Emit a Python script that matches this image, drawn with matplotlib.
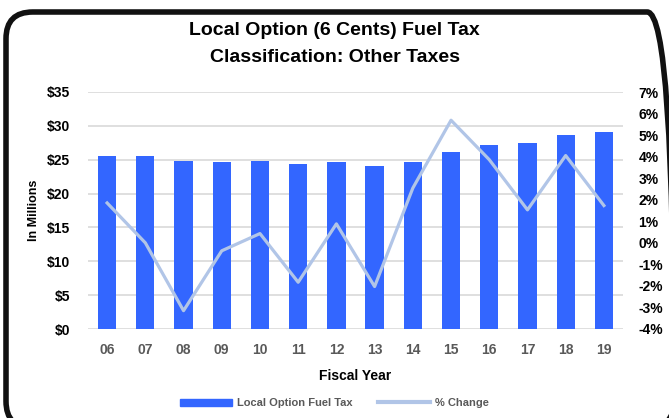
import matplotlib
matplotlib.use("Agg")
import matplotlib.pyplot as plt
from matplotlib.patches import FancyBboxPatch, Patch
from matplotlib.lines import Line2D
import numpy as np

plt.rcParams['font.family'] = ['Liberation Sans Narrow', 'Liberation Sans', 'DejaVu Sans']

years = ["06", "07", "08", "09", "10", "11", "12", "13", "14", "15", "16", "17", "18", "19"]
revenue = [25.6, 25.6, 24.8, 24.7, 24.8, 24.4, 24.6, 24.1, 24.7, 26.1, 27.1, 27.5, 28.6, 29.1]
pct_change = [1.85, 0.0, -3.15, -0.37, 0.43, -1.83, 0.88, -2.03, 2.54, 5.69, 3.86, 1.53, 4.05, 1.73]

BAR = "#3366ff"
LINE = "#b1c5e7"
GRID = "#d9d9d9"
TICK_GREY = "#595959"

fig = plt.figure(figsize=(6.69, 4.18), dpi=100)
ax = fig.add_axes([88 / 669, 1 - 329 / 418, 535 / 669, 237 / 418])

x = np.arange(len(years))
ax.bar(x, revenue, 0.48, color=BAR, zorder=2)
ax.set_xlim(-0.5, len(years) - 0.5)
ax.set_ylim(0, 35)
ax.set_yticks(np.arange(0, 36, 5))
ax.set_yticklabels([f"${v}" for v in range(0, 36, 5)])
ax.grid(axis="y", color=GRID, lw=1.2, zorder=0)
ax.set_axisbelow(True)
ax.set_xticks(x)
ax.set_xticklabels(years)
for s in ax.spines.values():
    s.set_visible(False)
ax.tick_params(axis="y", length=0, pad=13, labelsize=10)
ax.tick_params(axis="x", length=0, pad=10, labelsize=10, labelcolor=TICK_GREY)
for t in ax.get_yticklabels() + ax.get_xticklabels():
    t.set_fontweight("bold")
ax.set_ylabel("In Millions", fontsize=9, fontweight="bold", labelpad=5)
ax.set_xlabel("Fiscal Year", fontsize=10, fontweight="bold", labelpad=9)

ax2 = ax.twinx()
ax2.plot(x, pct_change, color=LINE, lw=2.3, zorder=3)
ax2.set_ylim(-4, 7)
ax2.set_yticks(np.arange(-4, 8, 1))
ax2.set_yticklabels([f"{v}%" for v in range(-4, 8)])
for s in ax2.spines.values():
    s.set_visible(False)
ax2.tick_params(axis="y", length=0, pad=11, labelsize=10)
for t in ax2.get_yticklabels():
    t.set_fontweight("bold")

fig.text(0.5, 1 - 44 / 418, "Local Option (6 Cents) Fuel Tax\nClassification: Other Taxes",
         ha="center", va="center", fontsize=14, fontweight="bold", linespacing=1.7)

handles = [Patch(color=BAR), Line2D([0], [0], color=LINE, lw=3)]
leg = fig.legend(handles, ["Local Option Fuel Tax", "% Change"], loc="center",
                 bbox_to_anchor=(0.5, 1 - 403 / 418), ncol=2, frameon=False,
                 fontsize=8, handlelength=4.7, handleheight=0.6, columnspacing=2.3,
                 handletextpad=0.45)
for t in leg.get_texts():
    t.set_color(TICK_GREY)
    t.set_fontweight("bold")

border = FancyBboxPatch((6 / 669, -10 / 418), 668 / 669, 1 - 2 / 418,
                        boxstyle="round,pad=0,rounding_size=0.04", transform=fig.transFigure,
                        fill=False, ec="#111111", lw=4, clip_on=False,
                        mutation_aspect=669 / 418)
fig.patches.append(border)

fig.savefig("out.png", dpi=100)
